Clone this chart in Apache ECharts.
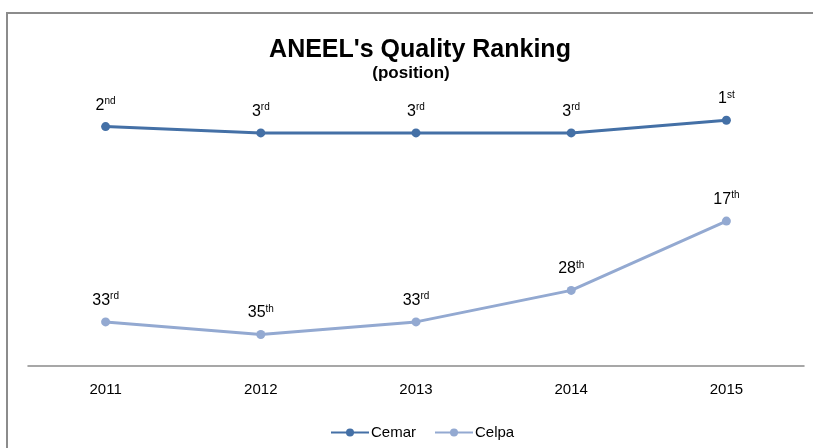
<!DOCTYPE html>
<html>
<head>
<meta charset="utf-8">
<script src="https://cdn.jsdelivr.net/npm/echarts@6/dist/echarts.min.js"></script>
<style>html,body{margin:0;padding:0;background:#fff;}#c{width:813px;height:448px;}</style>
</head>
<body>
<div id="c"></div>
<script>
const years = ['2011', '2012', '2013', '2014', '2015'];
const cemar = [2, 3, 3, 3, 1];
const celpa = [33, 35, 33, 28, 17];
const seriesNames = ['Cemar', 'Celpa'];
const titleText = "ANEEL's Quality Ranking";
const subtitleText = '(position)';

function suffix(n) {
  const m100 = n % 100, m10 = n % 10;
  if (m100 >= 11 && m100 <= 13) return 'th';
  if (m10 === 1) return 'st';
  if (m10 === 2) return 'nd';
  if (m10 === 3) return 'rd';
  return 'th';
}
const FONT = '"Liberation Sans", Arial, sans-serif';
const label = {
  show: true,
  position: 'top',
  distance: 8,
  formatter: p => '{n|' + p.value + '}{s|' + suffix(p.value) + '}',
  rich: {
    n: { fontSize: 16, lineHeight: 18, color: '#000', fontFamily: FONT },
    s: { fontSize: 10, lineHeight: 10, verticalAlign: 'top', color: '#000', fontFamily: FONT }
  }
};
const chart = echarts.init(document.getElementById('c'));
chart.setOption({
  animation: false,
  textStyle: { fontFamily: FONT },
  graphic: [{
    type: 'rect', shape: { x: 7, y: 13, width: 900, height: 600 },
    style: { fill: 'none', stroke: '#8c8c8c', lineWidth: 2 }, z: -1
  }],
  title: [
    { text: titleText, left: 415, top: 33, textAlign: 'center',
      textStyle: { fontSize: 25, fontWeight: 'bold', color: '#000', fontFamily: FONT } },
    { text: subtitleText, left: 406, top: 60, textAlign: 'center',
      textStyle: { fontSize: 17, fontWeight: 'bold', color: '#000', fontFamily: FONT } }
  ],
  legend: {
    left: 325, top: 420,
    itemWidth: 38, itemHeight: 10, itemGap: 18,
    textStyle: { fontSize: 15, color: '#000', fontFamily: FONT, padding: [0, 0, 0, -3] },
    data: seriesNames
  },
  grid: { left: 28, right: 9, top: 114, bottom: 82 },
  xAxis: {
    type: 'category', data: years, boundaryGap: true, position: 'bottom',
    axisLine: { onZero: false, lineStyle: { color: '#8a8a8a', width: 1.5 } },
    axisTick: { show: false },
    axisLabel: { fontSize: 15, color: '#000', margin: 16, fontFamily: FONT }
  },
  yAxis: {
    type: 'value', inverse: true, min: 0, max: 40,
    show: false, splitLine: { show: false }
  },
  series: [
    { name: seriesNames[0], type: 'line', data: cemar, symbol: 'circle', symbolSize: 9,
      lineStyle: { color: '#4470a6', width: 3 }, itemStyle: { color: '#4470a6' }, label },
    { name: seriesNames[1], type: 'line', data: celpa, symbol: 'circle', symbolSize: 9,
      lineStyle: { color: '#93a9d1', width: 3 }, itemStyle: { color: '#93a9d1' }, label }
  ]
});
</script>
</body>
</html>
